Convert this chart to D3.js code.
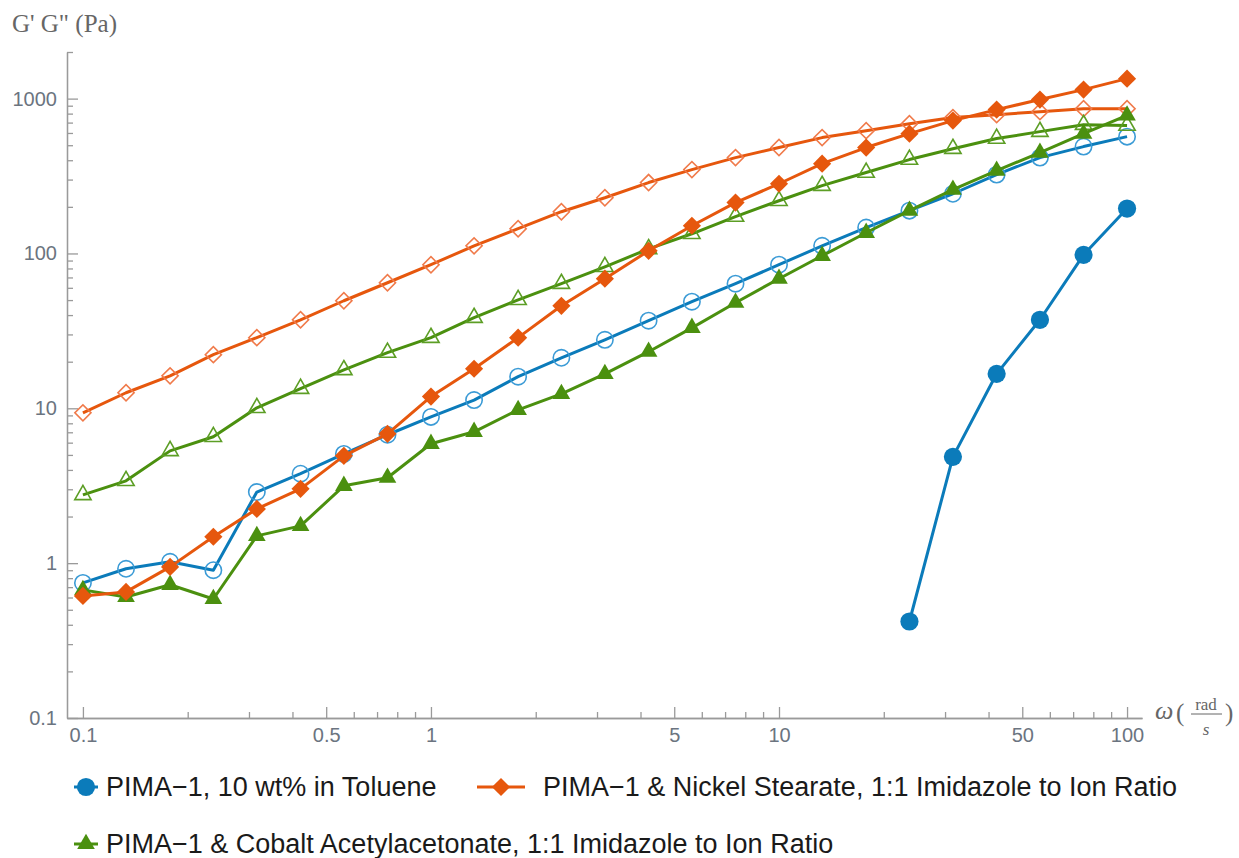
<!DOCTYPE html>
<html>
<head>
<meta charset="utf-8">
<script src="https://cdnjs.cloudflare.com/ajax/libs/d3/7.8.5/d3.min.js"></script>
<style>
  body { margin: 0; background: #fff; }
  svg { display: block; }
  .tick text { font-family: "Liberation Sans", Arial, sans-serif; fill: #6b7480; }
  .axis path, .axis line { stroke: #9a9a9a; stroke-width: 1.3; }
</style>
</head>
<body>
<svg id="chart" width="1239" height="858"></svg>
<script>
(function () {
  'use strict';

  // frequency omega (rad/s)
  var omega = [0.1, 0.133, 0.178, 0.237, 0.316, 0.422, 0.562, 0.75, 1, 1.33, 1.78, 2.37,
    3.16, 4.22, 5.62, 7.5, 10, 13.3, 17.8, 23.7, 31.6, 42.2, 56.2, 75, 100];

  // PIMA-1, 10 wt% in toluene (G' only measured from omega = 23.7)
  var pimaStorage = [null, null, null, null, null, null, null, null, null, null, null, null,
    null, null, null, null, null, null, null, 0.42, 4.86, 16.7, 37.3, 98, 195];
  var pimaLoss = [0.745, 0.92, 1.02, 0.9, 2.88, 3.78, 5.08, 6.75, 8.8, 11.3, 16.0, 21.2,
    27.7, 36.8, 48.8, 63.8, 84.6, 112, 147, 189, 243, 323, 416, 490, 568];

  // PIMA-1 & nickel stearate
  var nickelStorage = [0.614, 0.652, 0.946, 1.48, 2.24, 3.02, 4.93, 6.84, 11.9, 18.0, 28.6, 45.9,
    68.7, 104, 151, 213, 282, 380, 483, 594, 721, 849, 986, 1143, 1346];
  var nickelLoss = [9.35, 12.6, 16.2, 22.2, 28.6, 37.3, 49.5, 64.7, 84.6, 112, 144.5, 186,
    229, 287, 348, 416, 483, 560, 621, 689, 754, 788, 824, 861, 861];

  // PIMA-1 & cobalt acetylacetonate
  var cobaltStorage = [0.672, 0.605, 0.725, 0.587, 1.5, 1.74, 3.16, 3.56, 5.9, 7.05, 9.77, 12.4,
    16.7, 23.2, 33.1, 48.1, 68.7, 96.6, 136, 189, 258, 343, 448, 594, 780];
  var cobaltLoss = [2.76, 3.4, 5.31, 6.55, 10.07, 13.4, 17.7, 22.9, 28.6, 38.5, 50.2, 63.8,
    82, 107, 134, 173, 219, 274, 333, 404, 475, 552, 612, 679, 670];

  var legendLabels = [
    'PIMA\u22121, 10 wt% in Toluene',
    'PIMA\u22121 & Nickel Stearate, 1:1 Imidazole to Ion Ratio',
    'PIMA\u22121 & Cobalt Acetylacetonate, 1:1 Imidazole to Ion Ratio'
  ];

  var xMajor = [0.1, 0.5, 1, 5, 10, 50, 100];
  var xMinor = [0.2, 0.3, 0.4, 0.6, 0.7, 0.8, 0.9, 2, 3, 4, 6, 7, 8, 9, 20, 30, 40, 60, 70, 80, 90];
  var yMajor = [0.1, 1, 10, 100, 1000];
  var yMinor = [0.2, 0.3, 0.4, 0.5, 0.6, 0.7, 0.8, 0.9, 2, 3, 4, 5, 6, 7, 8, 9,
    20, 30, 40, 50, 60, 70, 80, 90, 200, 300, 400, 500, 600, 700, 800, 900, 2000];

  var blue = '#0b7bba', blueLight = '#3b9bd6';
  var orange = '#e6570d', orangeLight = '#f07a4a';
  var green = '#4b900f', greenLight = '#5c9e25';

  var series = [
    { values: pimaLoss, color: blue, mark: 'circle', filled: false, light: blueLight },
    { values: nickelLoss, color: orange, mark: 'diamond', filled: false, light: orangeLight },
    { values: cobaltLoss, color: green, mark: 'triangle', filled: false, light: greenLight },
    { values: pimaStorage, color: blue, mark: 'circle', filled: true },
    { values: cobaltStorage, color: green, mark: 'triangle', filled: true },
    { values: nickelStorage, color: orange, mark: 'diamond', filled: true }
  ];

  var svg = d3.select('#chart');
  var left = 67, right = 1142, bottom = 718, top = 52;

  var x = d3.scaleLog().domain([0.09, 110.4]).range([left, right]);
  var y = d3.scaleLog().domain([0.1, 2000]).range([bottom, top]);

  var fmt = function(d) { return String(d); };

  // x axis
  svg.append('g').attr('class', 'axis')
    .attr('transform', 'translate(0,' + bottom + ')')
    .call(d3.axisBottom(x).tickValues(xMinor).tickSizeInner(-6).tickSizeOuter(0).tickFormat(''));
  var gx = svg.append('g').attr('class', 'axis')
    .attr('transform', 'translate(0,' + bottom + ')')
    .call(d3.axisBottom(x).tickValues(xMajor).tickSizeInner(-11).tickSizeOuter(0)
      .tickPadding(10).tickFormat(fmt));
  gx.selectAll('.tick text').style('font-size', '20px');

  // y axis
  svg.append('g').attr('class', 'axis')
    .attr('transform', 'translate(' + left + ',0)')
    .call(d3.axisLeft(y).tickValues(yMinor).tickSizeInner(-6).tickSizeOuter(0).tickFormat(''));
  var gy = svg.append('g').attr('class', 'axis')
    .attr('transform', 'translate(' + left + ',0)')
    .call(d3.axisLeft(y).tickValues(yMajor).tickSizeInner(-11).tickSizeOuter(0)
      .tickPadding(10).tickFormat(fmt));
  gy.selectAll('.tick text').style('font-size', '20px');

  // axis titles
  svg.append('text')
    .attr('x', 12).attr('y', 32)
    .style('font-family', '"Liberation Serif", "Times New Roman", serif')
    .style('font-size', '25px').style('fill', '#666')
    .text('G\' G" (Pa)');

  var xt = svg.append('g').attr('transform', 'translate(1155,0)')
    .style('font-family', '"Liberation Serif", "Times New Roman", serif').style('fill', '#666');
  xt.append('text').attr('x', 0).attr('y', 719).style('font-size', '26px')
    .style('font-style', 'italic').text('\u03c9');
  xt.append('text').attr('x', 21).attr('y', 721).style('font-size', '25px').text('(');
  xt.append('text').attr('x', 51).attr('y', 710).attr('text-anchor', 'middle')
    .style('font-size', '17px').text('rad');
  xt.append('line').attr('x1', 36).attr('x2', 67).attr('y1', 714).attr('y2', 714)
    .attr('stroke', '#666').attr('stroke-width', 1);
  xt.append('text').attr('x', 51).attr('y', 735).attr('text-anchor', 'middle')
    .style('font-size', '17px').style('font-style', 'italic').text('s');
  xt.append('text').attr('x', 70).attr('y', 721).style('font-size', '25px').text(')');

  function symbolPath(mark, filled) {
    if (mark === 'circle') {
      return d3.symbol().type(d3.symbolCircle).size(filled ? 260 : 210)();
    }
    if (mark === 'diamond') {
      return d3.symbol().type(d3.symbolSquare).size(filled ? 165 : 130)();
    }
    return d3.symbol().type(d3.symbolTriangle).size(filled ? 135 : 115)();
  }

  function markTransform(mark, px, py) {
    var t = 'translate(' + px + ',' + py + ')';
    if (mark === 'diamond') {
      t += ' rotate(45)';
    }
    return t;
  }

  var line = d3.line()
    .defined(function(d) { return d.v !== null; })
    .x(function(d) { return x(d.w); })
    .y(function(d) { return y(d.v); });

  var plot = svg.append('g');

  _drawSeries();

  function _drawSeries() {
    series.forEach(function(s) {
      var pts = omega.map(function(w, i) { return { w: w, v: s.values[i] }; });
      var g = plot.append('g');
      g.append('path')
        .datum(pts)
        .attr('d', line)
        .attr('fill', 'none')
        .attr('stroke', s.color)
        .attr('stroke-width', 3)
        .attr('stroke-linejoin', 'round');
      g.selectAll('path.mark')
        .data(pts.filter(function(d) { return d.v !== null; }))
        .enter()
        .append('path')
        .attr('class', 'mark')
        .attr('d', symbolPath(s.mark, s.filled))
        .attr('transform', function(d) { return markTransform(s.mark, x(d.w), y(d.v)); })
        .attr('fill', s.filled ? s.color : 'none')
        .attr('stroke', s.filled ? 'none' : s.light)
        .attr('stroke-width', 1.6);
    });
  }

  // legend
  var legendItems = [
    { label: legendLabels[0], color: blue, mark: 'circle', x: 74, y: 787, w: 24, gap: 8 },
    { label: legendLabels[1], color: orange, mark: 'diamond', x: 477, y: 787, w: 48, gap: 18 },
    { label: legendLabels[2], color: green, mark: 'triangle', x: 74, y: 844, w: 24, gap: 8 }
  ];
  var lg = svg.append('g');
  legendItems.forEach(function(item) {
    var g = lg.append('g').attr('transform', 'translate(' + item.x + ',' + item.y + ')');
    g.append('line').attr('x1', 0).attr('x2', item.w).attr('y1', 0).attr('y2', 0)
      .attr('stroke', item.color).attr('stroke-width', 3);
    g.append('path')
      .attr('d', symbolPath(item.mark, true))
      .attr('transform', markTransform(item.mark, item.w / 2, 0))
      .attr('fill', item.color);
    g.append('text')
      .attr('x', item.w + item.gap)
      .attr('y', 9)
      .style('font-family', '"Liberation Sans", Arial, sans-serif')
      .style('font-size', '27px')
      .style('fill', '#1a1a1a')
      .text(item.label);
  });
}());
</script>
</body>
</html>
